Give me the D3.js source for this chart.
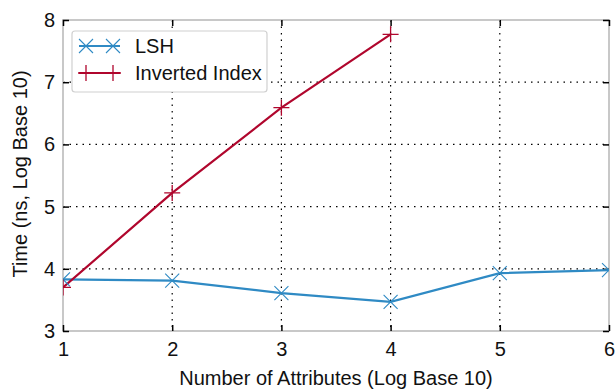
<!DOCTYPE html>
<html><head><meta charset="utf-8">
<script src="https://cdn.jsdelivr.net/npm/d3@7"></script>
<style>body{margin:0;background:#fff}svg{display:block;font-family:"Liberation Sans",Arial,sans-serif}</style>
</head><body><svg id="c" width="616" height="390"></svg>
<script>
const xValues = [1, 2, 3, 4, 5, 6];
const lshValues = [3.83, 3.81, 3.61, 3.47, 3.93, 3.98];
const invXValues = [1, 2, 3, 4];
const invValues = [3.70, 5.22, 6.59, 7.77];
const xTicks = [1, 2, 3, 4, 5, 6];
const yTicks = [3, 4, 5, 6, 7, 8];
const seriesNames = ["LSH", "Inverted Index"];

const svg = d3.select("#c");
const L = 63, R = 609, T = 20, B = 331;
const x = d3.scaleLinear().domain([1, 6]).range([L, R]);
const y = d3.scaleLinear().domain([3, 8]).range([B, T]);

// grid
const g = svg.append("g");
g.selectAll(".gx").data(xTicks).join("line")
  .attr("x1", d => x(d)).attr("x2", d => x(d)).attr("y1", T).attr("y2", B)
  .attr("stroke", "#000").attr("stroke-width", 1.2).attr("stroke-dasharray", "1.5,5");
g.selectAll(".gy").data(yTicks).join("line")
  .attr("y1", d => y(d)).attr("y2", d => y(d)).attr("x1", L).attr("x2", R)
  .attr("stroke", "#000").attr("stroke-width", 1.2).attr("stroke-dasharray", "1.5,5");

// frame
svg.append("rect").attr("x", L).attr("y", T).attr("width", R - L).attr("height", B - T)
  .attr("fill", "none").attr("stroke", "#c8c8c8").attr("stroke-width", 2);

// axes with inward ticks
const ax = d3.axisBottom(x).tickValues(xTicks).tickSize(-6).tickPadding(11).tickFormat(d3.format("d"));
const ay = d3.axisLeft(y).tickValues(yTicks).tickSize(-6).tickPadding(8).tickFormat(d3.format("d"));
const axt = d3.axisTop(x).tickValues(xTicks).tickSize(-6).tickFormat("");
const ayr = d3.axisRight(y).tickValues(yTicks).tickSize(-6).tickFormat("");
function style(sel) {
  sel.select(".domain").remove();
  sel.selectAll(".tick line").attr("stroke", "#000").attr("stroke-width", 1.5);
  sel.selectAll(".tick text").attr("fill", "#111").style("font-size", "20px");
}
svg.append("g").attr("transform", `translate(0,${B})`).call(ax).call(style);
svg.append("g").attr("transform", `translate(${L},0)`).call(ay).call(style);
svg.append("g").attr("transform", `translate(0,${T})`).call(axt).call(style);
svg.append("g").attr("transform", `translate(${R},0)`).call(ayr).call(style);

// clip
svg.append("clipPath").attr("id", "clip").append("rect")
  .attr("x", L).attr("y", T).attr("width", R - L).attr("height", B - T);
const plot = svg.append("g").attr("clip-path", "url(#clip)");

const cBlue = "#2f8ac4", cRed = "#b0062d";
const line = d3.line().x(d => x(d[0])).y(d => y(d[1]));
const lshData = xValues.map((v, i) => [v, lshValues[i]]);
const invData = invXValues.map((v, i) => [v, invValues[i]]);

plot.append("path").datum(lshData).attr("d", line).attr("fill", "none").attr("stroke", cBlue).attr("stroke-width", 2.2);
plot.append("path").datum(invData).attr("d", line).attr("fill", "none").attr("stroke", cRed).attr("stroke-width", 2.2);

function xMark(sel, cx, cy, s, col) {
  sel.append("path").attr("d", `M${cx - s},${cy - s}L${cx + s},${cy + s}M${cx - s},${cy + s}L${cx + s},${cy - s}`)
    .attr("stroke", col).attr("stroke-width", 1.1).attr("fill", "none");
}
function plusMark(sel, cx, cy, s, col) {
  sel.append("path").attr("d", `M${cx - s},${cy}L${cx + s},${cy}M${cx},${cy - s}L${cx},${cy + s}`)
    .attr("stroke", col).attr("stroke-width", 1.3).attr("fill", "none");
}
lshData.forEach(d => xMark(plot, x(d[0]), y(d[1]), 7, cBlue));
invData.forEach(d => plusMark(plot, x(d[0]), y(d[1]), 8, cRed));

// legend
const lg = svg.append("g");
lg.append("rect").attr("x", 72).attr("y", 31).attr("width", 195).attr("height", 61).attr("rx", 3)
  .attr("fill", "#fff").attr("stroke", "#d0d0d0").attr("stroke-width", 1.2);
const ly = [46, 73], lc = [cBlue, cRed];
seriesNames.forEach((n, i) => {
  lg.append("line").attr("x1", 79).attr("x2", 120).attr("y1", ly[i]).attr("y2", ly[i]).attr("stroke", lc[i]).attr("stroke-width", 2.2);
  if (i === 0) { xMark(lg, 86, ly[i], 7, lc[i]); xMark(lg, 113, ly[i], 7, lc[i]); }
  else { plusMark(lg, 86, ly[i], 8, lc[i]); plusMark(lg, 113, ly[i], 8, lc[i]); }
  lg.append("text").attr("x", 135).attr("y", ly[i] + 7).text(n).attr("fill", "#111").style("font-size", "20px");
});

// axis titles
svg.append("text").attr("x", 336).attr("y", 385).attr("text-anchor", "middle")
  .style("font-size", "20px").attr("fill", "#111").text("Number of Attributes (Log Base 10)");
svg.append("text").attr("transform", `translate(27,174) rotate(-90)`).attr("text-anchor", "middle")
  .style("font-size", "20px").attr("fill", "#111").text("Time (ns, Log Base 10)");
</script></body></html>
